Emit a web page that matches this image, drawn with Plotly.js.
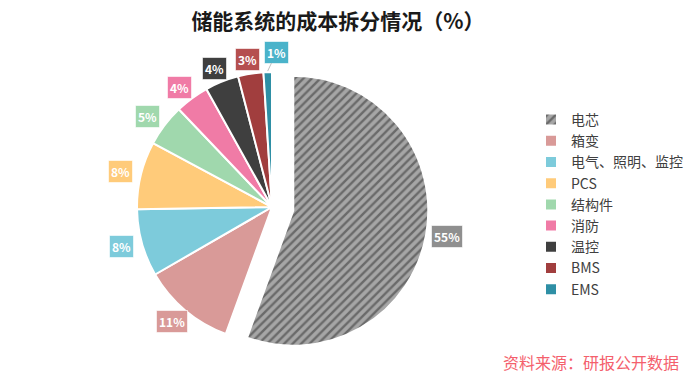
<!DOCTYPE html>
<html>
<head>
<meta charset="utf-8">
<script src="https://cdn.plot.ly/plotly-3.0.1.min.js"></script>
<style>html,body{margin:0;padding:0;background:#fff;}#chart{width:692px;height:385px;}</style>
</head>
<body>
<div id="chart"></div>
<script>
const categories = ['电芯', '箱变', '电气、照明、监控', 'PCS', '结构件', '消防', '温控', 'BMS', 'EMS'];
const shares = [55, 11, 8, 8, 5, 4, 4, 3, 1];
const labelTexts = ['55%', '11%', '8%', '8%', '5%', '4%', '4%', '3%', '1%'];

const colors = ['#a6a6a6', '#d99a98', '#7dcbdb', '#ffcb7a', '#a0d8ad', '#f07ba6', '#3f3f3f', '#a13e3e', '#2e8fa5'];
const boxColors = ['#8f8f8f', '#d99a98', '#7dcbdb', '#ffcb7a', '#a0d8ad', '#f07ba6', '#3f3f3f', '#b54f4f', '#4ab3ca'];

const W = 692, H = 385;
const cx = 272, cy = 207, R = 135;
const pullBig = 0.16;
const half = R * (1 + pullBig);

const trace = {
  type: 'pie',
  labels: categories,
  values: shares,
  sort: false,
  direction: 'clockwise',
  rotation: 0,
  pull: shares.map((v, i) => i === 0 ? pullBig : 0),
  textinfo: 'none',
  hoverinfo: 'label+percent',
  domain: {
    x: [(cx - half) / W, (cx + half) / W],
    y: [(H - cy - half) / H, (H - cy + half) / H]
  },
  marker: {
    colors: colors,
    line: {color: '#ffffff', width: 2},
    pattern: {
      shape: shares.map((v, i) => i === 0 ? '/' : ''),
      fgcolor: '#6a6a6a',
      bgcolor: '#a6a6a6',
      size: 6,
      solidity: 0.4
    }
  }
};

// label boxes placed from the data via the slice angles
const total = shares.reduce((a, b) => a + b, 0);
let cum = 0;
const annotations = [];
const hw = 15, hh = 8, gap = 6;
shares.forEach((v, i) => {
  const mid = (cum + v / 2) / total;
  cum += v;
  const ang = mid * 2 * Math.PI;
  const ux = Math.sin(ang), uy = -Math.cos(ang);
  const pc = i === 0 ? R * pullBig : 0;
  const ox = cx + ux * pc, oy = cy + uy * pc;
  let px = ox + ux * (R + gap) + ux * hw;
  let py = oy + uy * (R + gap) + uy * hh;
  const ann = {
    xref: 'paper', yref: 'paper',
    text: '<b>' + labelTexts[i] + '</b>',
    font: {family: 'Noto Sans CJK SC, Noto Sans, sans-serif', size: 12, color: '#ffffff'},
    bgcolor: boxColors[i],
    bordercolor: 'rgba(255,255,255,0.6)',
    borderwidth: 1,
    borderpad: 2,
    xanchor: 'center', yanchor: 'middle',
    showarrow: false
  };
  if (i === shares.length - 1) {
    const ex = ox + ux * (R + 1), ey = oy + uy * (R + 1);
    ann.x = ex / W; ann.y = 1 - ey / H;
    ann.showarrow = true; ann.arrowhead = 0; ann.arrowwidth = 1;
    ann.arrowcolor = '#bfbfbf';
    ann.ax = 9; ann.ay = -19;
  } else {
    ann.x = px / W; ann.y = 1 - py / H;
  }
  annotations.push(ann);
});

annotations.push({
  xref: 'paper', yref: 'paper', x: 681 / W, y: 1 - 362 / H,
  xanchor: 'right', yanchor: 'middle', showarrow: false,
  text: '资料来源：研报公开数据',
  font: {family: 'Noto Sans CJK SC, sans-serif', size: 16, color: '#f4606c'}
});

const layout = {
  width: W, height: H,
  margin: {l: 0, r: 0, t: 0, b: 0},
  paper_bgcolor: '#ffffff',
  title: {
    text: '<b>储能系统的成本拆分情况（%）</b>',
    font: {family: 'Noto Sans CJK SC, sans-serif', size: 21, color: '#1a1a1a'},
    x: 338 / W, xanchor: 'center', y: 1 - 22 / H, yanchor: 'middle'
  },
  showlegend: true,
  legend: {
    x: 531 / W, y: 1 - 104 / H, xanchor: 'left', yanchor: 'top',
    font: {family: 'Noto Sans CJK SC, sans-serif', size: 14, color: '#404040'},
    bgcolor: 'rgba(0,0,0,0)'
  },
  annotations: annotations
};

Plotly.newPlot('chart', [trace], layout, {displayModeBar: false, staticPlot: true});
</script>
</body>
</html>
